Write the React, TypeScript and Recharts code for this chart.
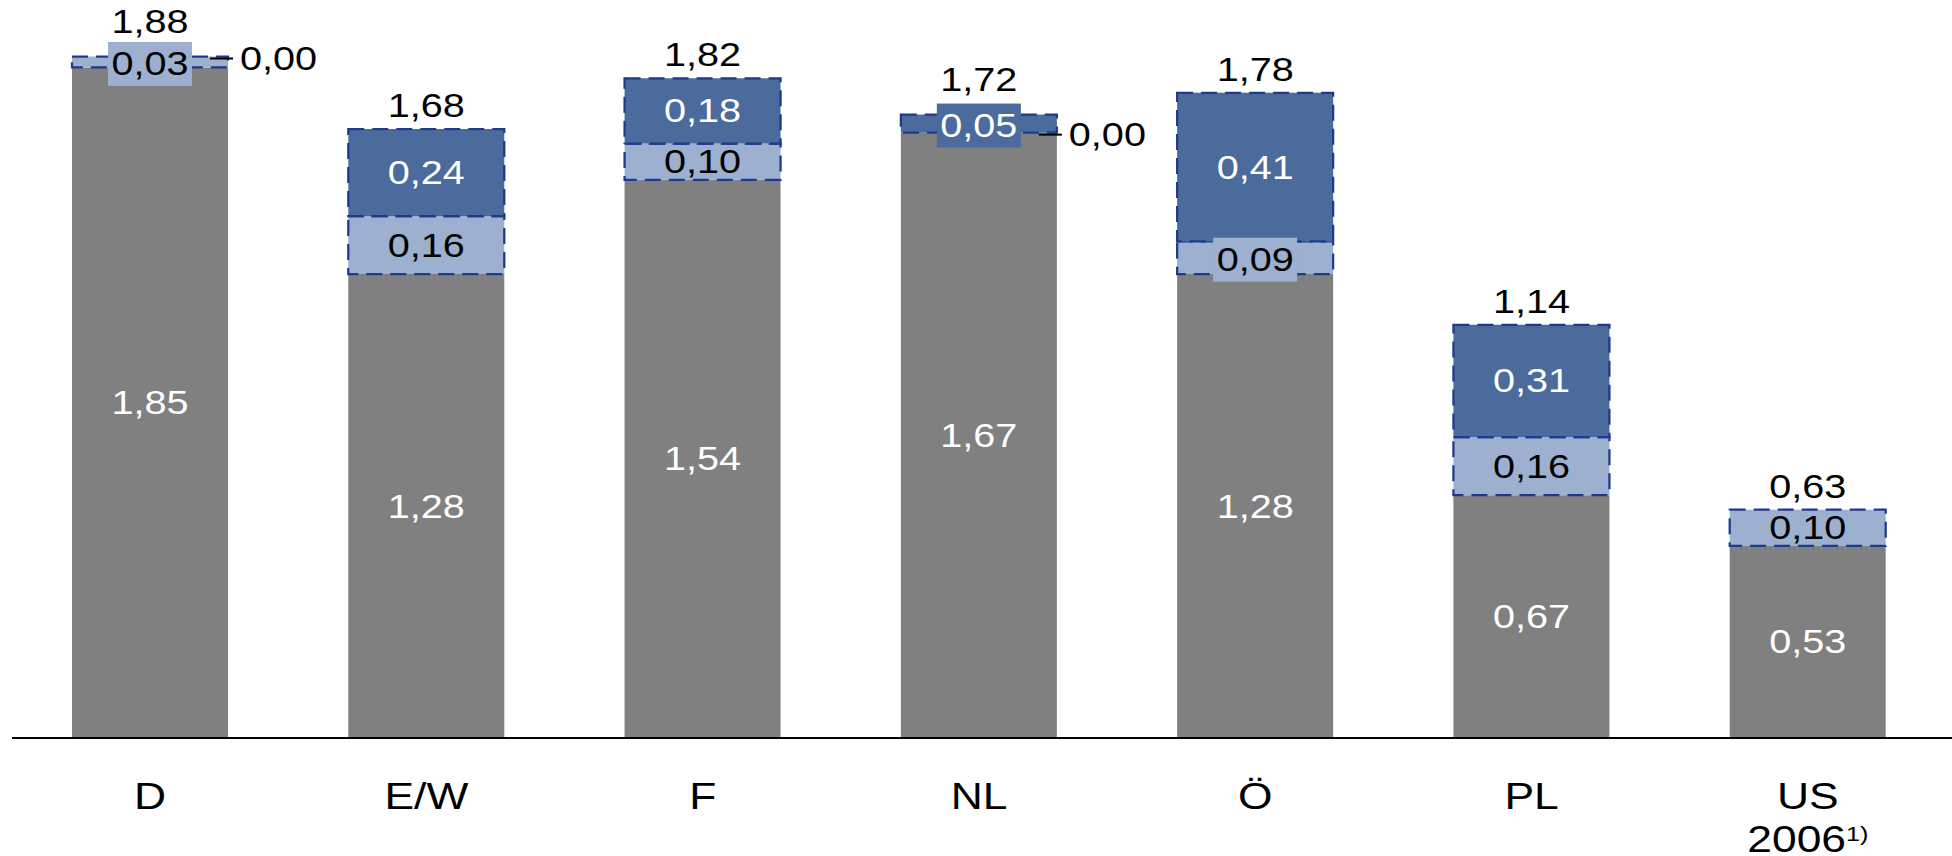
import React from 'react';
import { BarChart, Bar, XAxis, YAxis, LabelList } from 'recharts';

// Categories and the optional second line / footnote mark of each axis label
const categories = ['D', 'E/W', 'F', 'NL', 'Ö', 'PL', 'US'];
const categorySubLines = ['', '', '', '', '', '', '2006'];
const categoryNotes = ['', '', '', '', '', '', '1)'];

// Stacked segments (bottom to top)
const baseValues = [1.85, 1.28, 1.54, 1.67, 1.28, 0.67, 0.53];
const lightValues = [0.03, 0.16, 0.1, 0.0, 0.09, 0.16, 0.1];
const darkValues: (number | null)[] = [0.0, 0.24, 0.18, 0.05, 0.41, 0.31, null];

const GRAY = '#808080';
const LIGHT = '#9DB0CF';
const DARK = '#4A6B9B';
const BORDER = '#1F3A8C';
const FONT = '"Liberation Sans", Arial, sans-serif';
const VALUE_SIZE = 33;
const AXIS_SIZE = 37;
const H_STRETCH = 1.2; // text is set slightly wide
const SMALL_SEGMENT = 0.095;

const fmt = (v: number) => v.toFixed(2).replace('.', ',');

const rows = categories.map((name, i) => ({
  name,
  base: baseValues[i],
  light: lightValues[i],
  dark: darkValues[i],
}));

// advance width of digits/commas in Arial metrics
const textWidth = (s: string, size: number) =>
  s.split('').reduce((w, ch) => w + (ch === ',' ? 0.278 : 0.556), 0) * size;

const WideText = ({
  x,
  y,
  size,
  color = '#000',
  anchor = 'middle',
  children,
}: {
  x: number;
  y: number;
  size: number;
  color?: string;
  anchor?: 'start' | 'middle' | 'end';
  children: React.ReactNode;
}) => (
  <g transform={`translate(${x},${y}) scale(${H_STRETCH},1)`}>
    <text x={0} y={0} textAnchor={anchor} fontSize={size} fontFamily={FONT} fill={color}>
      {children}
    </text>
  </g>
);

const makeSegmentLabel = (fill: string, color: string) => (props: any) => {
  const { x, y, width, height, value } = props;
  if (value == null || x == null) return null;
  const v = Number(value);
  if (!(v > 0)) return null;
  const top = Math.min(y, y + height);
  const h = Math.abs(height);
  const small = v < SMALL_SEGMENT;
  const cx = x + width / 2;
  const cy = top + h / 2 + (small ? 2 : 0);
  const label = fmt(v);
  const bw = textWidth(label, VALUE_SIZE) * H_STRETCH + 7;
  return (
    <g>
      {small && <rect x={cx - bw / 2} y={cy - 22} width={bw} height={44} fill={fill} />}
      <WideText x={cx} y={cy + VALUE_SIZE * 0.35} size={VALUE_SIZE} color={color}>
        {label}
      </WideText>
    </g>
  );
};

// Totals above each stack and the "0,00" call-outs for empty segments,
// positioned from the base bar's own geometry.
const StackExtras = (props: any) => {
  const { x, y, width, height, value } = props;
  const i = categories.indexOf(value);
  if (i < 0 || x == null) return null;
  const base = baseValues[i];
  const light = lightValues[i];
  const dark = darkValues[i];
  const unit = Math.abs(height) / base;
  const baseTop = Math.min(y, y + height);
  const total = base + light + (dark ?? 0);
  const stackTop = baseTop - (light + (dark ?? 0)) * unit;
  const topSegment = dark != null && dark > 0 ? dark : light;
  const raised = topSegment > 0 && topSegment < SMALL_SEGMENT;
  const right = x + width;

  const zeroMarks: number[] = [];
  if (light === 0) zeroMarks.push(baseTop);
  if (dark === 0) zeroMarks.push(baseTop - light * unit);

  return (
    <g>
      <WideText x={x + width / 2} y={stackTop - (raised ? 24 : 12)} size={VALUE_SIZE}>
        {fmt(total)}
      </WideText>
      {zeroMarks.map((zy, k) => (
        <g key={k}>
          <line x1={right - 18} x2={right + 5} y1={zy + 2} y2={zy + 2} stroke="#000" strokeWidth={2} />
          <WideText x={right + 12} y={zy + 2 + VALUE_SIZE * 0.35} size={VALUE_SIZE} anchor="start">
            {fmt(0)}
          </WideText>
        </g>
      ))}
    </g>
  );
};

const CategoryTick = (props: any) => {
  const { x, y, payload } = props;
  const i = categories.indexOf(payload.value);
  return (
    <g>
      <WideText x={x} y={y + 71} size={AXIS_SIZE}>
        {categories[i]}
      </WideText>
      {categorySubLines[i] && (
        <WideText x={x} y={y + 114} size={AXIS_SIZE}>
          {categorySubLines[i]}
          <tspan fontSize={21} dy={-11}>
            {categoryNotes[i]}
          </tspan>
        </WideText>
      )}
    </g>
  );
};

export default function App() {
  return (
    <div style={{ position: 'fixed', left: 0, top: 0, width: 1952, height: 856, background: '#fff' }}>
      <BarChart
        width={1952}
        height={856}
        data={rows}
        margin={{ top: 13, right: 0, bottom: 0, left: 12 }}
        barSize={156}
      >
        <XAxis
          dataKey="name"
          height={118}
          axisLine={{ stroke: '#000', strokeWidth: 2 }}
          tickLine={false}
          tickSize={0}
          tickMargin={0}
          interval={0}
          padding={{ left: 0, right: 6 }}
          tick={<CategoryTick />}
        />
        <YAxis hide domain={[0, 2]} />
        <Bar stackId="s" dataKey="base" fill={GRAY} isAnimationActive={false}>
          <LabelList dataKey="base" content={makeSegmentLabel(GRAY, '#fff')} />
          <LabelList dataKey="name" content={<StackExtras />} />
        </Bar>
        <Bar
          stackId="s"
          dataKey="light"
          fill={LIGHT}
          stroke={BORDER}
          strokeWidth={2.25}
          strokeDasharray="16 8"
          isAnimationActive={false}
        >
          <LabelList dataKey="light" content={makeSegmentLabel(LIGHT, '#000')} />
        </Bar>
        <Bar
          stackId="s"
          dataKey="dark"
          fill={DARK}
          stroke={BORDER}
          strokeWidth={2.25}
          strokeDasharray="16 8"
          isAnimationActive={false}
        >
          <LabelList dataKey="dark" content={makeSegmentLabel(DARK, '#fff')} />
        </Bar>
      </BarChart>
    </div>
  );
}
